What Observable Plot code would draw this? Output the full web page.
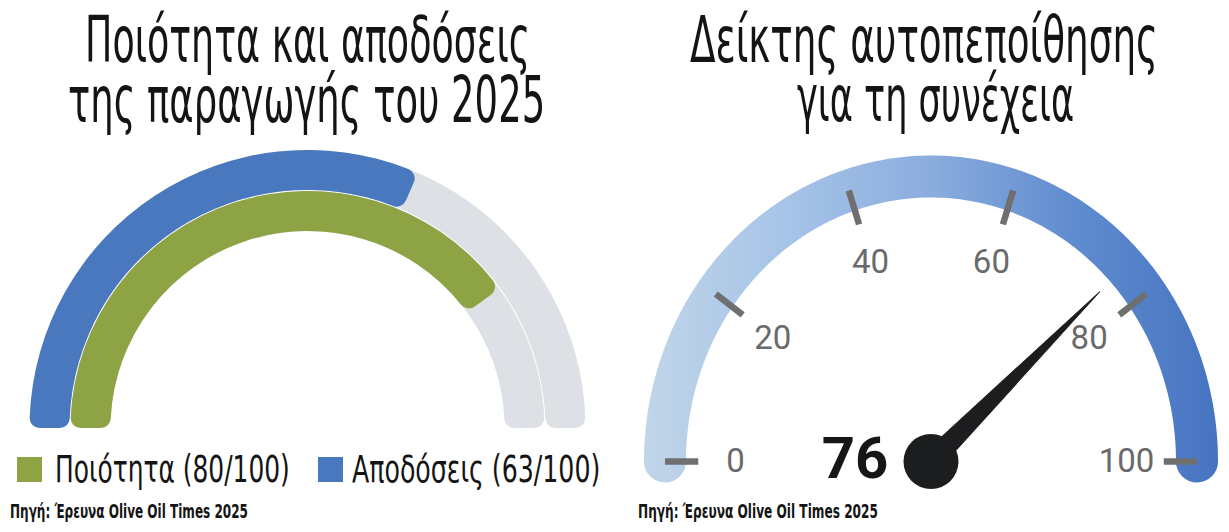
<!DOCTYPE html>
<html><head><meta charset="utf-8">
<script src="https://cdn.jsdelivr.net/npm/d3@7"></script>
<script src="https://cdn.jsdelivr.net/npm/@observablehq/plot@0.6"></script>
<style>
html,body{margin:0;padding:0;background:#fff;}
#root{position:relative;width:1229px;height:532px;overflow:hidden;background:#fff;}
.t{position:absolute;white-space:nowrap;transform-origin:0 0;color:#141414;line-height:0.85;
   font-family:"Liberation Sans Narrow","DejaVu Sans Condensed","Roboto",sans-serif;}
.box{position:absolute;}
.sq{position:absolute;}
</style></head><body><div id="root"></div>
<script>
// ---------------- data ----------------
const leftTitle = ["Ποιότητα και αποδόσεις", "της παραγωγής του 2025"];
const rightTitle = ["Δείκτης αυτοπεποίθησης", "για τη συνέχεια"];
const seriesNames = ["Ποιότητα", "Αποδόσεις"];
const seriesValues = [80, 63];
const seriesMax = 100;
const seriesColors = ["#8ea343", "#4a78be"];
const trackColor = "#dde1e5";
const confidenceValue = 76;
const gaugeTicks = [0, 20, 40, 60, 80, 100];
const gaugeMax = 100;
const sourceText = "Πηγή: Έρευνα Olive Oil Times 2025";

// ---------------- layout ----------------
const root = document.getElementById("root");

function addText(str, {x, baseline, width, size, weight = 400, family, color}) {
  const d = document.createElement("div");
  d.className = "t";
  d.style.fontSize = size + "px";
  d.style.fontWeight = weight;
  if (family) d.style.fontFamily = family;
  if (color) d.style.color = color;
  d.textContent = str;
  const m = document.createElement("span");
  m.style.cssText = "display:inline-block;width:0;height:0;vertical-align:baseline;";
  d.appendChild(m);
  root.appendChild(d);
  const base = m.offsetTop;
  const w = d.offsetWidth;
  d.style.left = x + "px";
  d.style.top = (baseline - base) + "px";
  d.style.transform = `scaleX(${width / w})`;
  return d;
}

// Titles
addText(leftTitle[0], {x: 85, baseline: 62, width: 445, size: 64});
addText(leftTitle[1], {x: 68, baseline: 122, width: 477, size: 64});
addText(rightTitle[0], {x: 690, baseline: 62, width: 468, size: 64});
addText(rightTitle[1], {x: 797, baseline: 121, width: 277, size: 64});

// ---------------- left gauge (concentric arcs) ----------------
const LP = {left: 0, top: 140, w: 615, h: 300, cx: 307.5, cy: 428};
const bandRadii = [[197, 237], [238, 278]]; // inner band (Ποιότητα), outer band (Αποδόσεις)
const cornerR = 10;

function arcsMark(...args) {
  const scales = args.find(a => a && typeof a === "object" && !Array.isArray(a) && ("x" in a || "y" in a)) || {};
  const sx = typeof scales.x === "function" ? scales.x : d3.scaleLinear([-LP.cx, LP.w - LP.cx], [0, LP.w]);
  const sy = typeof scales.y === "function" ? scales.y : d3.scaleLinear([-(LP.h - (LP.cy - LP.top)), LP.cy - LP.top], [LP.h, 0]);
  const ns = "http://www.w3.org/2000/svg";
  const g = document.createElementNS(ns, "g");
  const cx = sx(0), cy = sy(0);
  g.setAttribute("transform", `translate(${cx},${cy})`);
  const ang = v => -Math.PI / 2 + Math.PI * v / seriesMax;
  seriesValues.forEach((v, i) => {
    const [r0, r1] = bandRadii[i];
    const ir = sx(r0) - sx(0), or = sx(r1) - sx(0);
    const arc = d3.arc().innerRadius(ir).outerRadius(or).cornerRadius(cornerR);
    const track = document.createElementNS(ns, "path");
    track.setAttribute("d", arc({startAngle: ang(0), endAngle: ang(seriesMax)}));
    track.setAttribute("fill", trackColor);
    g.appendChild(track);
  });
  seriesValues.forEach((v, i) => {
    const [r0, r1] = bandRadii[i];
    const ir = sx(r0) - sx(0), or = sx(r1) - sx(0);
    const arc = d3.arc().innerRadius(ir).outerRadius(or).cornerRadius(cornerR);
    const p = document.createElementNS(ns, "path");
    p.setAttribute("d", arc({startAngle: ang(0), endAngle: ang(v)}));
    p.setAttribute("fill", seriesColors[i]);
    g.appendChild(p);
  });
  return g;
}

const leftPlot = Plot.plot({
  width: LP.w, height: LP.h, margin: 0,
  style: {background: "transparent", overflow: "visible"},
  x: {domain: [-LP.cx, LP.w - LP.cx], range: [0, LP.w], axis: null},
  y: {domain: [-(LP.h - (LP.cy - LP.top)), LP.cy - LP.top], range: [LP.h, 0], axis: null},
  marks: [arcsMark]
});
const lbox = document.createElement("div");
lbox.className = "box";
lbox.style.left = LP.left + "px"; lbox.style.top = LP.top + "px";
lbox.appendChild(leftPlot);
root.appendChild(lbox);

// Legend
const legendX = [[17, 55, 235], [318, 352, 248]];
seriesNames.forEach((n, i) => {
  const s = document.createElement("div");
  s.className = "sq";
  s.style.cssText += `left:${legendX[i][0]}px;top:457px;width:25px;height:25px;background:${seriesColors[i]};`;
  root.appendChild(s);
  addText(`${n} (${seriesValues[i]}/${seriesMax})`, {x: legendX[i][1], baseline: 482, width: legendX[i][2], size: 37});
});

// Sources
addText(sourceText, {x: 10, baseline: 518, width: 238, size: 19, weight: 700});
addText(sourceText, {x: 638, baseline: 518, width: 240, size: 19, weight: 700});

// ---------------- right gauge (speedometer) ----------------
const RP = {left: 615, top: 140, w: 614, h: 360, cx: 315.5, cy: 321};
const kx = 266, ky = 285;       // px per unit radius (centre line of band)
const bandWidth = 42;
const tickIn = 0.875, tickOut = 1.0, labelR = 0.735, needleFrac = 0.87;

const theta = v => Math.PI * (1 - v / gaugeMax);
const arcPts = d3.range(0, gaugeMax + 0.001, 0.5).map(v => ({v}));

const tp = theta(confidenceValue);
const px = kx * Math.cos(tp), py = ky * Math.sin(tp);
const needleRotate = Math.atan2(px, py) * 180 / Math.PI;
const needleLen = needleFrac * Math.hypot(px, py);

const rightPlot = Plot.plot({
  width: RP.w, height: RP.h, margin: 0,
  style: {background: "transparent", overflow: "visible"},
  x: {domain: [-RP.cx / kx, (RP.w - RP.cx) / kx], range: [0, RP.w], axis: null},
  y: {domain: [-(RP.h - RP.cy) / ky, RP.cy / ky], range: [RP.h, 0], axis: null},
  marks: [
    Plot.line(arcPts, {
      x: d => Math.cos(theta(d.v)), y: d => Math.sin(theta(d.v)),
      stroke: "url(#gaugeGrad)", strokeWidth: bandWidth, strokeLinecap: "round", curve: "linear"
    }),
    Plot.link(gaugeTicks, {
      x1: v => tickIn * Math.cos(theta(v)), y1: v => tickIn * Math.sin(theta(v)),
      x2: v => tickOut * Math.cos(theta(v)), y2: v => tickOut * Math.sin(theta(v)),
      stroke: "#6f6f6f", strokeWidth: 6.5
    }),
    Plot.text(gaugeTicks, {
      x: v => labelR * Math.cos(theta(v)), y: v => labelR * Math.sin(theta(v)),
      text: v => String(v), fontSize: 33, fill: "#6a6a6a", fontFamily: "Roboto, sans-serif"
    }),
    Plot.vector([confidenceValue], {
      x: () => 0, y: () => 0, length: needleLen, rotate: needleRotate,
      shape: "spike", anchor: "start", r: 11, fill: "#1c1d1f", stroke: "#1c1d1f", strokeWidth: 1
    }),
    Plot.dot([confidenceValue], {x: () => 0, y: () => 0, r: 27.5, fill: "#1c1d1f", stroke: "none"}),
    Plot.text([confidenceValue], {
      x: () => 0, y: () => 0, dx: -76, dy: -2, text: v => String(v),
      fontSize: 58, fontWeight: 700, fill: "#161616", fontFamily: "Roboto, sans-serif"
    })
  ]
});

// gradient definition for the band
(function addGradient(svg) {
  const ns = "http://www.w3.org/2000/svg";
  const defs = document.createElementNS(ns, "defs");
  const lg = document.createElementNS(ns, "linearGradient");
  lg.setAttribute("id", "gaugeGrad");
  lg.setAttribute("gradientUnits", "userSpaceOnUse");
  lg.setAttribute("x1", RP.cx - kx - bandWidth / 2);
  lg.setAttribute("x2", RP.cx + kx + bandWidth / 2);
  lg.setAttribute("y1", 0); lg.setAttribute("y2", 0);
  [[0, "#c0d5e8"], [0.25, "#a6c4e8"], [0.5, "#8badde"], [0.75, "#5f8bcf"], [1, "#4774c1"]].forEach(([o, c]) => {
    const st = document.createElementNS(ns, "stop");
    st.setAttribute("offset", o); st.setAttribute("stop-color", c);
    lg.appendChild(st);
  });
  defs.appendChild(lg);
  svg.insertBefore(defs, svg.firstChild);
})(rightPlot);

const rbox = document.createElement("div");
rbox.className = "box";
rbox.style.left = RP.left + "px"; rbox.style.top = RP.top + "px";
rbox.appendChild(rightPlot);
root.appendChild(rbox);
</script>
</body></html>
